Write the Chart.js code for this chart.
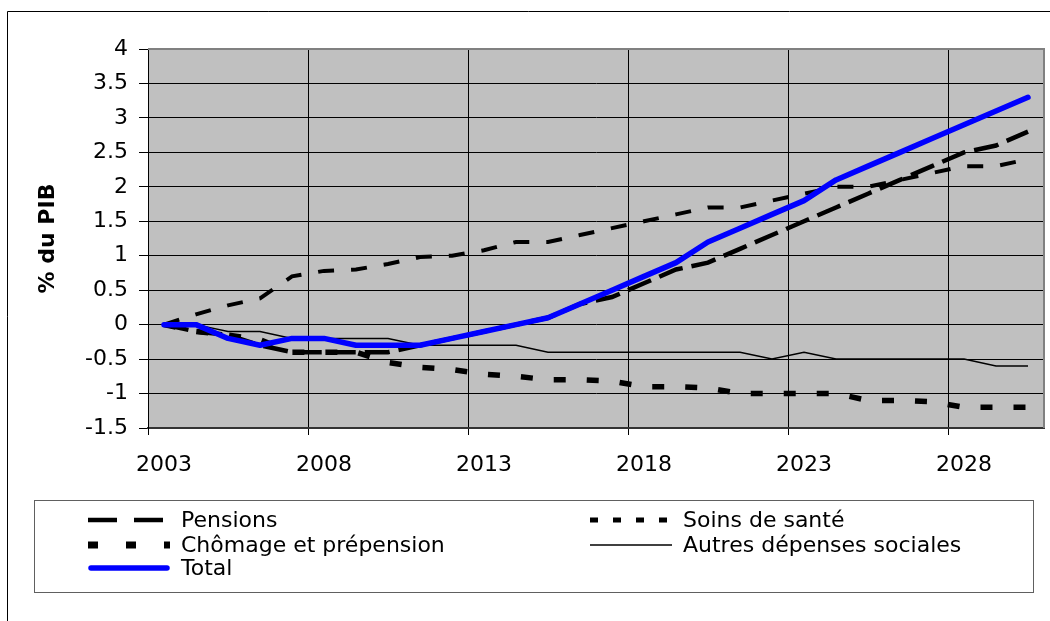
<!DOCTYPE html>
<html>
<head>
<meta charset="utf-8">
<title>Dépenses sociales</title>
<script src="https://cdn.jsdelivr.net/npm/chart.js@4.4.1/dist/chart.umd.min.js"></script>
<style>
    html, body { margin: 0; padding: 0; background: #fff; }
    #wrap { position: relative; width: 1050px; height: 621px; }
</style>
</head>
<body>
<div id="wrap"><canvas id="chart" width="1050" height="621"></canvas></div>
<script>
const years = ['2003', '2004', '2005', '2006', '2007', '2008', '2009', '2010', '2011', '2012',
    '2013', '2014', '2015', '2016', '2017', '2018', '2019', '2020', '2021', '2022',
    '2023', '2024', '2025', '2026', '2027', '2028', '2029', '2030'];

const pensions = [0, -0.1, -0.15, -0.3, -0.4, -0.4, -0.4, -0.4, -0.3, -0.2,
    -0.1, 0, 0.1, 0.3, 0.4, 0.6, 0.8, 0.9, 1.1, 1.3,
    1.5, 1.7, 1.9, 2.1, 2.3, 2.5, 2.6, 2.8];
const soins = [0, 0.15, 0.28, 0.38, 0.7, 0.78, 0.8, 0.88, 0.98, 1.0,
    1.08, 1.2, 1.2, 1.3, 1.4, 1.5, 1.6, 1.7, 1.7, 1.8,
    1.9, 2.0, 2.0, 2.1, 2.2, 2.3, 2.3, 2.4];
const chomage = [0, -0.1, -0.15, -0.22, -0.4, -0.4, -0.4, -0.55, -0.62, -0.65,
    -0.72, -0.75, -0.8, -0.8, -0.82, -0.9, -0.9, -0.92, -1.0, -1.0,
    -1.0, -1.0, -1.1, -1.1, -1.12, -1.2, -1.2, -1.2];
const autres = [0, 0, -0.1, -0.1, -0.2, -0.2, -0.2, -0.2, -0.3, -0.3,
    -0.3, -0.3, -0.4, -0.4, -0.4, -0.4, -0.4, -0.4, -0.4, -0.5,
    -0.4, -0.5, -0.5, -0.5, -0.5, -0.5, -0.6, -0.6];
const total = [0, 0, -0.2, -0.3, -0.2, -0.2, -0.3, -0.3, -0.3, -0.2,
    -0.1, 0, 0.1, 0.3, 0.5, 0.7, 0.9, 1.2, 1.4, 1.6,
    1.8, 2.1, 2.3, 2.5, 2.7, 2.9, 3.1, 3.3];

const seriesNames = ['Pensions', 'Soins de santé', 'Chômage et prépension', 'Autres dépenses sociales', 'Total'];
const yTitle = '% du PIB';

const FONT = 'DejaVu Sans';

// white page, grey plot background, outer frame of the picture
const framePlugin = {
    id: 'frame',
    beforeDraw(chart) {
        const {ctx, chartArea: a} = chart;
        ctx.save();
        ctx.fillStyle = '#fff';
        ctx.fillRect(0, 0, chart.width, chart.height);
        ctx.fillStyle = '#c0c0c0';
        ctx.fillRect(a.left, a.top, a.right - a.left, a.bottom - a.top);
        ctx.strokeStyle = '#000';
        ctx.lineWidth = 1;
        ctx.beginPath();
        ctx.moveTo(7.5, chart.height);
        ctx.lineTo(7.5, 11.5);
        ctx.lineTo(chart.width, 11.5);
        ctx.stroke();
        ctx.restore();
    },
    beforeDatasetsDraw(chart) {
        const {ctx, chartArea: a} = chart;
        ctx.save();
        ctx.strokeStyle = '#808080';
        ctx.lineWidth = 2;
        ctx.beginPath();
        ctx.moveTo(a.left, a.top);
        ctx.lineTo(a.right, a.top);
        ctx.lineTo(a.right, a.bottom);
        ctx.stroke();
        ctx.restore();
    }
};

// legend in a box, two columns like the original
const legendPlugin = {
    id: 'boxLegend',
    afterDraw(chart) {
        const ctx = chart.ctx;
        ctx.save();
        ctx.fillStyle = '#fff';
        ctx.fillRect(34.5, 500.5, 999, 92);
        ctx.strokeStyle = '#606060';
        ctx.lineWidth = 1;
        ctx.strokeRect(34.5, 500.5, 999, 92);

        let cols = [88, 590];
        let rows = [520, 545, 568];
        chart.data.datasets.forEach((ds, i) => {
            let x = cols[i % 2];
            let y = rows[Math.floor(i / 2)];
            ctx.strokeStyle = ds.borderColor;
            ctx.lineWidth = ds.legendWidth;
            ctx.lineCap = ds.borderCapStyle || 'butt';
            ctx.setLineDash(ds.legendDash);
            ctx.beginPath();
            if (ds.borderCapStyle === 'round') {
                ctx.moveTo(x + 3, y);
                ctx.lineTo(x + 79, y);
            } else {
                ctx.moveTo(x, y);
                ctx.lineTo(x + 82, y);
            }
            ctx.stroke();
            ctx.setLineDash([]);
            ctx.fillStyle = '#000';
            ctx.font = '22px "' + FONT + '"';
            ctx.textBaseline = 'alphabetic';
            ctx.fillText(ds.label, x + 93, y + 7);
        });
        ctx.restore();
    }
};

const datasets = [
    {
        label: seriesNames[0], data: pensions, borderColor: '#000', borderWidth: 4.5,
        borderDash: [25, 9], legendDash: [29, 17], legendWidth: 4.5, order: 4
    },
    {
        label: seriesNames[1], data: soins, borderColor: '#000', borderWidth: 4,
        borderDash: [16, 17], legendDash: [8, 15], legendWidth: 5, order: 3
    },
    {
        label: seriesNames[2], data: chomage, borderColor: '#000', borderWidth: 5.5,
        borderDash: [12, 21], legendDash: [10, 28], legendWidth: 7, order: 2
    },
    {
        label: seriesNames[3], data: autres, borderColor: '#000', borderWidth: 1.5,
        borderDash: [], legendDash: [], legendWidth: 1.5, order: 1
    },
    {
        label: seriesNames[4], data: total, borderColor: '#0000ff', borderWidth: 5.5,
        borderDash: [], legendDash: [], legendWidth: 5.5, order: 0,
        borderCapStyle: 'round', borderJoinStyle: 'round'
    }
];

new Chart(document.getElementById('chart'), {
    type: 'line',
    data: {
        labels: years,
        datasets: datasets
    },
    options: {
        responsive: false,
        animation: false,
        devicePixelRatio: 1,
        locale: 'en-US',
        layout: {padding: {top: 49, right: 6, bottom: 133, left: 0}},
        plugins: {
            legend: {display: false},
            tooltip: {enabled: false}
        },
        elements: {
            point: {radius: 0},
            line: {tension: 0, fill: false}
        },
        scales: {
            x: {
                offset: true,
                grid: {
                    offset: true,
                    color: c => c.index % 5 === 0 ? '#000' : 'rgba(0,0,0,0)',
                    lineWidth: 1,
                    tickLength: 7
                },
                border: {color: '#333', width: 2},
                ticks: {
                    autoSkip: false,
                    maxRotation: 0,
                    padding: 17,
                    color: '#000',
                    font: {family: FONT, size: 22},
                    callback: function (value, index) {
                        return index % 5 === 0 ? this.getLabelForValue(value) : '';
                    }
                },
                afterFit: scale => { scale.height = 60; }
            },
            y: {
                min: -1.5,
                max: 4,
                ticks: {
                    stepSize: 0.5,
                    padding: 11,
                    color: '#000',
                    font: {family: FONT, size: 22},
                    callback: value => String(Number(value.toFixed(1)))
                },
                grid: {color: '#000', lineWidth: 1, tickLength: 9},
                border: {color: '#000', width: 1},
                title: {
                    display: true,
                    text: yTitle,
                    color: '#000',
                    font: {family: FONT, size: 22, weight: 'bold'},
                    padding: {top: 35, bottom: 0}
                },
                afterFit: scale => { scale.width = 148; }
            }
        }
    },
    plugins: [framePlugin, legendPlugin]
});
</script>
</body>
</html>
